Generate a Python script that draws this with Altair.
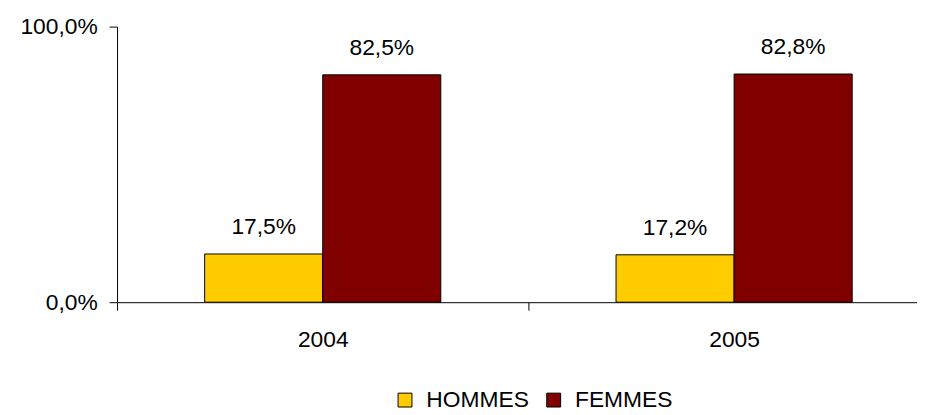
import altair as alt
import pandas as pd

years = ["2004", "2004", "2005", "2005"]
sexes = ["HOMMES", "FEMMES", "HOMMES", "FEMMES"]
values = [0.175, 0.825, 0.172, 0.828]
labels = ["17,5%", "82,5%", "17,2%", "82,8%"]
sex_order = ["HOMMES", "FEMMES"]
colors = ["#FFCC00", "#800000"]

df = pd.DataFrame({"year": years, "sex": sexes, "value": values, "label": labels})

FONT = "Liberation Sans"
FS = 23

x = alt.X("year:N", title=None,
          scale=alt.Scale(range=[0, 830], paddingInner=0, paddingOuter=0),
          axis=alt.Axis(labelAngle=0, tickBand="extent", tickSize=8, tickColor="#000000",
                        domainColor="#000000", labelFont=FONT, labelFontSize=FS,
                        labelColor="#000000", labelPadding=19, labelFontWeight="normal"))
xo = alt.XOffset("sex:N", sort=sex_order,
                 scale=alt.Scale(paddingInner=0, paddingOuter=0.742))
y = alt.Y("value:Q", title=None,
          scale=alt.Scale(domain=[0, 1], nice=False),
          axis=alt.Axis(values=[0, 1], grid=False, tickSize=8, tickColor="#000000",
                        domainColor="#000000", labelFont=FONT, labelFontSize=FS,
                        labelColor="#000000", labelPadding=12,
                        labelExpr="replace(format(datum.value, '.1%'), '.', ',')"))

bars = alt.Chart(df).mark_bar(stroke="#000000", strokeWidth=1).encode(
    x=x, xOffset=xo, y=y,
    color=alt.Color("sex:N", sort=sex_order,
                    scale=alt.Scale(domain=sex_order, range=colors),
                    legend=alt.Legend(title=None, orient="none", direction="horizontal",
                                      legendX=279, legendY=365,
                                      symbolType="square", symbolSize=196,
                                      symbolStrokeColor="#000000", symbolStrokeWidth=1,
                                      symbolOpacity=1,
                                      labelFont=FONT, labelFontSize=FS, labelColor="#000000",
                                      labelOffset=10, columnPadding=13)),
)

text = alt.Chart(df).mark_text(dy=-20, baseline="alphabetic", font=FONT, fontSize=FS,
                                color="#000000").encode(
    x=x, xOffset=xo, y=y, text="label:N")

chart = alt.layer(bars, text).properties(
    width=807, height=278,
    autosize=alt.AutoSizeParams(type="none"),
    padding={"left": 110, "top": 17, "right": 0, "bottom": 112},
).configure_view(stroke=None)

chart.save("out.html", embed_options={"renderer": "svg", "actions": False})
